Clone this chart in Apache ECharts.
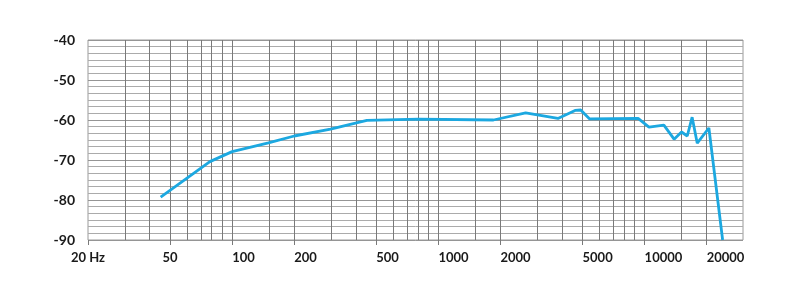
<!DOCTYPE html>
<html>
<head>
<meta charset="utf-8">
<script src="https://cdn.jsdelivr.net/npm/echarts@6/dist/echarts.min.js"></script>
<style>
html,body{margin:0;padding:0;background:#fff;}
#chart{width:800px;height:306px;}
</style>
</head>
<body>
<div id="chart"></div>
<script>
// Frequency response (Hz, dB)
const freqs = [45, 78, 100, 150, 200, 300, 450, 800, 1850, 2650, 3800, 4600, 4900, 5400, 9300, 10500, 12400, 13900, 15100, 16100, 17000, 18000, 20500, 23900];
const levels = [-79.3, -70.4, -67.9, -65.7, -64.0, -62.3, -60.1, -59.8, -60.0, -58.2, -59.6, -57.6, -57.5, -59.7, -59.6, -61.8, -61.3, -64.8, -63.0, -64.0, -59.3, -65.8, -62.0, -90];
// x tick labels
const xLabelsCentered = [20, 50];
const xLabelsLeft = [100, 200, 500, 1000, 2000, 5000, 10000, 20000];
// vertical grid line frequencies
const gridFreqs = [30, 40, 50, 60, 70, 80, 90, 100, 150, 200, 300, 400, 500, 600, 700, 800, 900, 1000, 1500, 2000, 3000, 4000, 5000, 6000, 7000, 8000, 9000, 10000, 15000, 20000];
const xMin = 20, xMax = 30000;
const yMin = -90, yMax = -40, yStep = 10;

const L = Math.log10;
const chart = echarts.init(document.getElementById('chart'), null, {renderer: 'canvas'});
const labelFont = {fontFamily: 'Lato', fontWeight: 'bold', fontSize: 13, color: '#1a1a1a'};
const fmt = v => {
  const f = Math.round(Math.pow(10, v));
  return f === 20 ? '20 Hz' : String(f);
};
const allTicks = xLabelsCentered.concat(xLabelsLeft).map(L);
const baseX = {
  type: 'value', min: L(xMin), max: L(xMax), position: 'bottom',
  axisLine: {show: false}, splitLine: {show: false}
};
chart.setOption({
  animation: false,
  grid: {left: 88, right: 57, top: 40, bottom: 66, show: true, borderColor: '#9a9a9a', borderWidth: 1, backgroundColor: 'transparent'},
  xAxis: [
    Object.assign({}, baseX, {
      axisTick: {show: true, length: 5, customValues: allTicks, lineStyle: {color: '#7a7a7a'}},
      axisLabel: Object.assign({customValues: xLabelsLeft.map(L), formatter: fmt, align: 'left', margin: 11}, labelFont)
    }),
    Object.assign({}, baseX, {
      axisTick: {show: false},
      axisLabel: Object.assign({customValues: xLabelsCentered.map(L), formatter: fmt, align: 'center', margin: 11}, labelFont)
    })
  ],
  yAxis: {
    type: 'value', min: yMin, max: yMax, interval: yStep,
    axisLine: {show: false}, axisTick: {show: false},
    axisLabel: Object.assign({margin: 13}, labelFont, {fontSize: 14}),
    minorTick: {show: false, splitNumber: 6},
    splitLine: {show: true, lineStyle: {color: '#959595', width: 1}},
    minorSplitLine: {show: true, lineStyle: {color: '#ababab', width: 1}}
  },
  series: [
    {
      type: 'line', data: [], silent: true, z: 1,
      markLine: {
        silent: true, symbol: ['none', 'none'], label: {show: false},
        lineStyle: {type: 'solid', color: '#7a7a7a', width: 1},
        data: gridFreqs.map(f => ({xAxis: L(f)}))
      }
    },
    {
      type: 'line', z: 5,
      data: freqs.map((f, i) => [L(f), levels[i]]),
      showSymbol: false, smooth: false,
      lineStyle: {color: '#1ca8e0', width: 2.8}
    }
  ]
});
</script>
</body>
</html>
